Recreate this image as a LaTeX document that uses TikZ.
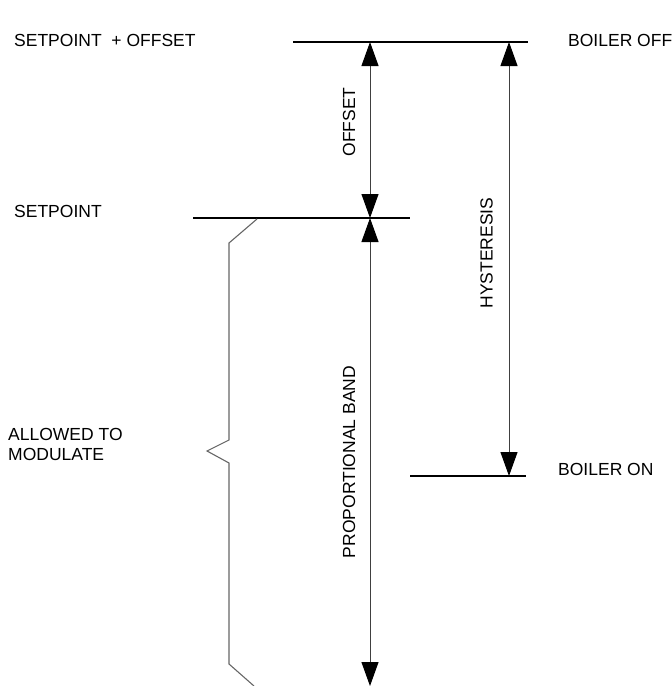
\documentclass[tikz,border=0pt]{standalone}
\usepackage{fontspec}
\setmainfont{Liberation Sans}
\usetikzlibrary{arrows.meta}
\tikzset{
    lbl/.style={anchor=base west,inner sep=0pt,font=\fontsize{17.5}{20}\selectfont},
    vlbl/.style={rotate=90,inner sep=0pt,font=\fontsize{17.5}{20}\selectfont},
    level/.style={line width=2.2pt},
    dim/.style={draw=black!75,line width=1pt,{Triangle[width=17pt,length=24pt,fill=black,color=black]}-{Triangle[width=17pt,length=24pt,fill=black,color=black]}},
    brace/.style={draw=black!60,line width=1.1pt,line join=miter}
}
\begin{document}
\begin{tikzpicture}[x=1pt,y=-1pt]
        \useasboundingbox (0,0) rectangle (672,686);
        % levels
        \coordinate (offL) at (293,42);  \coordinate (offR) at (528,42);
        \coordinate (spL) at (193,218);  \coordinate (spR) at (410,218);
        \coordinate (onL) at (410,476);  \coordinate (onR) at (526,476);
        \draw[level] (offL) -- (offR);
        \draw[level] (spL) -- (spR);
        \draw[level] (onL) -- (onR);
        % arrows
        \coordinate (offTop) at (370,42);
        \coordinate (spMid) at (370,218);
        \coordinate (bandEnd) at (370,686);
        \coordinate (hysTop) at (509,42);
        \coordinate (hysBot) at (509,476);
        \draw[dim] (offTop) -- (spMid);
        \draw[dim] (spMid) -- (bandEnd);
        \draw[dim] (hysTop) -- (hysBot);
        \node[vlbl] (offset) at (349,122) {OFFSET};
        \node[vlbl] (hyst) at (486.5,253) {HYSTERESIS};
        \node[vlbl] (band) at (349,462) {PROPORTIONAL BAND};
        % brace
        \draw[brace] (257,219) -- (229,243) -- (229,440) -- (207,451) -- (229,463) -- (229,664) -- (254,686);
        % texts
        \node[lbl] (spoff) at (14,46) {SETPOINT\ \ + OFFSET};
        \node[lbl] (sp) at (14,217) {SETPOINT};
        \node[anchor=north west,align=left,inner sep=0pt,font=\fontsize{17.5}{20}\selectfont] (mod) at (8,428) {ALLOWED TO\\MODULATE};
        \node[lbl] (boff) at (568,46) {BOILER OFF};
        \node[lbl] (bon) at (558,475) {BOILER ON};
\end{tikzpicture}
\end{document}
